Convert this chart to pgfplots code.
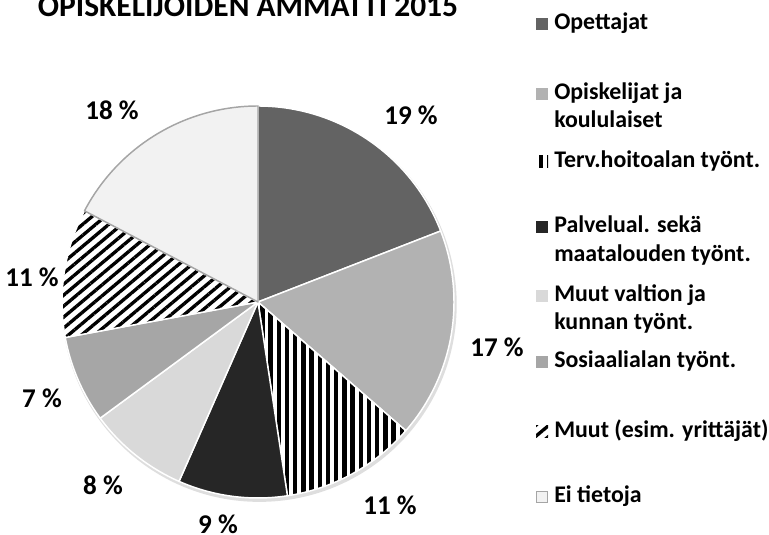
\documentclass[border=0pt]{standalone}
\usepackage{fontspec}
\setmainfont{Carlito}
\usepackage{pgfplots}
\pgfplotsset{compat=1.18}
\usetikzlibrary{patterns.meta}

\definecolor{cOp}{RGB}{99,99,99}
\definecolor{cOk}{RGB}{178,178,178}
\definecolor{cPa}{RGB}{38,38,38}
\definecolor{cMv}{RGB}{217,217,217}
\definecolor{cSo}{RGB}{166,166,166}
\definecolor{cEi}{RGB}{242,242,242}
\definecolor{cEiB}{RGB}{165,165,165}

\tikzset{
  s1/.style={fill=cOp},
  s2/.style={fill=cOk},
  s3/.style={preaction={fill=white}, pattern={Lines[angle=90,distance=6.15pt,line width=3.2pt]}, pattern color=black},
  s4/.style={fill=cPa},
  s5/.style={fill=cMv},
  s6/.style={fill=cSo},
  s7/.style={preaction={fill=white}, pattern={Lines[angle=40,distance=6.3pt,line width=2.5pt]}, pattern color=black},
  s8/.style={fill=cEi, draw=cEiB},
}

\begin{document}
\begin{tikzpicture}[x=0.75pt, y=0.75pt]
\useasboundingbox (0,0) rectangle (769,535);

\begin{axis}[
    at={(193.5pt,174.75pt)}, anchor=center,
    width=294pt, height=294pt, scale only axis,
    hide axis, clip=false,
    xmin=-1, xmax=1, ymin=-1, ymax=1,
]
\pgfplotsextra{
  % soft shadow
  \fill[black!13] (axis cs:0.007,-0.013) circle[radius=148pt];
  % slices clockwise from 12 o'clock (shares in %)
  \foreach \v/\s [remember=\b as \a (initially 90)] in
      {19.1/s1, 17.3/s2, 11.2/s3, 9.0/s4, 8.3/s5, 7.2/s6, 10.6/s7, 17.3/s8} {
    \pgfmathsetmacro\b{\a-3.6*\v}
    \path[draw=white, line width=1.1pt, line join=round, \s]
      (axis cs:0,0) -- (axis cs:{cos(\a)},{sin(\a)})
      arc[start angle=\a, end angle=\b, radius=147pt] -- cycle;
  }
}
\end{axis}

% title
\node[anchor=base, inner sep=0, font=\fontsize{23.6}{28}\selectfont\bfseries]
  at (248,518.5) {OPISKELIJOIDEN AMMATTI 2015};

% data labels
\foreach \x/\y/\t in {411/410/19, 497/178/17, 390/20/11, 218/1/9,
                      103/40/8, 42/127/7, 32/248/11, 112/415/18}
  \node[anchor=base, inner sep=0, font=\fontsize{20.3}{24}\selectfont\bfseries] at (\x,\y) {\t\ \%};

% legend
\foreach \y/\s in {505/s1, 435/s2, 367/s3, 302/s4, 233/s5, 167/s6, 97/s7}
  \path[\s] (536,\y) rectangle ++(12,12);
\path[s8, line width=0.6pt] (536.5,32.5) rectangle ++(11,11);

\begin{scope}[every node/.style={anchor=base west, inner sep=0, font=\fontsize{17.9}{21}\selectfont\bfseries}]
\node at (554,505) {Opettajat};
\node at (554,435) {Opiskelijat ja};
\node at (554,407) {koululaiset};
\node at (554,367) {Terv.hoitoalan työnt.};
\node at (554,302) {Palvelual. sekä};
\node at (554,273) {maatalouden työnt.};
\node at (554,233) {Muut valtion ja};
\node at (554,205) {kunnan työnt.};
\node at (554,167) {Sosiaalialan työnt.};
\node at (554,97) {Muut (esim. yrittäjät)};
\node at (554,32) {Ei tietoja};
\end{scope}
\end{tikzpicture}
\end{document}
